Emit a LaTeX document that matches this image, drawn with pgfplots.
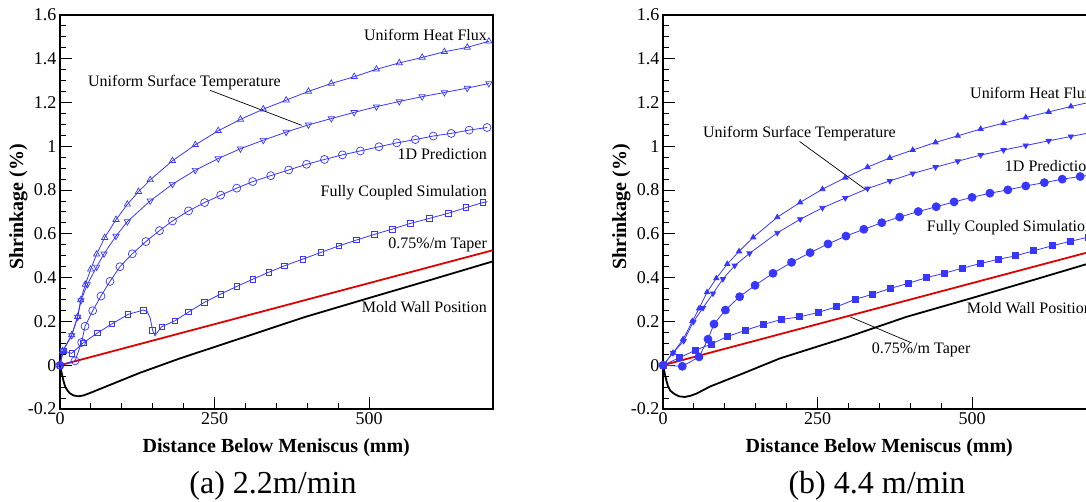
\documentclass[border=0pt]{standalone}
\usepackage{pgfplots}
\pgfplotsset{compat=1.18}
\usepackage{fontspec}
\setmainfont{Liberation Serif}
\definecolor{cblue}{RGB}{55,55,255}
\definecolor{cred}{RGB}{220,0,0}
\tikzset{
  bl/.style={color=cblue, line width=0.8pt},
  ann/.style={font=\fontsize{16}{18}\selectfont, inner sep=0pt},
}
\pgfplotsset{
  myaxis/.style={
    scale only axis, width=432.6pt, height=394pt,
    xmin=0, xmax=700, ymin=-0.2, ymax=1.6,
    xtick={0,250,500}, xticklabels={0,250,500},
    ytick={-0.2,0,0.2,0.4,0.6,0.8,1,1.2,1.4,1.6},
    yticklabels={-0.2,0,0.2,0.4,0.6,0.8,1,1.2,1.4,1.6},
    minor x tick num=4, minor y tick num=3,
    tick align=inside, xtick pos=left, ytick pos=left,
    major tick length=12pt, minor tick length=6pt,
    every tick/.style={black, line width=1pt},
    axis line style={black, line width=1.8pt},
    tick label style={font=\fontsize{18}{20}\selectfont},
    xlabel style={at={(axis description cs:0.5,-0.098)}, anchor=center, font=\fontsize{20}{22}\selectfont\bfseries},
    ylabel style={at={(axis description cs:-0.096,0.513)}, anchor=center, font=\fontsize{20}{22}\selectfont\bfseries},
    xlabel={Distance Below Meniscus (mm)},
    ylabel={Shrinkage (\%)},
    clip=false,
  },
}
\begin{document}
\begin{tikzpicture}[x=1pt,y=1pt]
\useasboundingbox (0,0) rectangle (1086,502);
\clip (0,0) rectangle (1086,502);
% ---------------- (a) ----------------
\begin{axis}[myaxis, at={(60pt,93pt)}, anchor=south west]
\addplot[black, line width=1.8pt] coordinates {(0,0)(1.5,-0.02)(3.2,-0.043)(5.5,-0.07)(8.1,-0.096)(12,-0.115)(16.2,-0.129)(22,-0.138)(29.6,-0.142)(38,-0.138)(48.5,-0.127)(75.6,-0.096)(129,-0.035)(194,0.031)(300,0.13)(396,0.22)(500,0.307)(600,0.39)(700,0.474)};
\addplot[cred, line width=1.8pt] coordinates {(0,0)(700,0.525)};
\addplot[bl, mark=triangle, mark size=3.6pt, mark options={solid, line width=0.7pt}] coordinates {(0,0)(4.4,0.066)(18.9,0.138)(28.6,0.222)(33.5,0.298)(41,0.369)(49.6,0.438)(59.3,0.507)(72.3,0.583)(90.6,0.665)(109,0.735)(127,0.793)(146,0.847)(182,0.934)(219,1.007)(256,1.071)(292,1.123)(329,1.170)(366,1.211)(402,1.251)(439,1.287)(476,1.318)(512,1.352)(549,1.381)(586,1.406)(622,1.432)(659,1.452)(694,1.48)};
\addplot[bl, mark=triangle, mark size=3.6pt, mark options={solid, rotate=180, line width=0.7pt}] coordinates {(0,0)(5,0.066)(18.9,0.136)(28.6,0.22)(34,0.296)(44.2,0.369)(59.3,0.449)(71.2,0.509)(90.6,0.590)(109,0.656)(146,0.751)(182,0.827)(219,0.891)(256,0.944)(292,0.989)(329,1.028)(366,1.065)(402,1.098)(439,1.127)(476,1.155)(512,1.181)(549,1.205)(586,1.227)(622,1.246)(659,1.266)(694,1.287)};
\addplot[bl, mark=o, mark size=4pt, mark options={solid, line width=0.7pt}] coordinates {(0,0)(24.3,0.02)(35,0.104)(40.5,0.178)(52.9,0.249)(66.3,0.316)(80.9,0.383)(97,0.45)(117,0.509)(139,0.565)(161,0.615)(182,0.659)(208,0.705)(234,0.743)(260,0.777)(286,0.809)(312,0.839)(341,0.866)(370,0.892)(399,0.918)(428,0.940)(457,0.961)(486,0.979)(516,0.998)(545,1.016)(575,1.031)(604,1.047)(633,1.059)(662,1.074)(691,1.086)};
\addplot[bl, no marks] coordinates {(0,0)(5.4,0.066)(18.9,0.054)(37.7,0.102)(60.4,0.147)(84.1,0.189)(110,0.232)(135,0.252)(141,0.246)(146,0.215)(149.8,0.160)(153.7,0.134)(158,0.152)(164.5,0.176)(186,0.203)(208,0.243)(234,0.288)(260,0.325)(286,0.360)(312,0.393)(338,0.425)(363,0.454)(393,0.485)(422,0.515)(451,0.545)(480,0.572)(509,0.598)(538,0.622)(567,0.648)(598,0.671)(628,0.694)(657,0.720)(684,0.743)(692,0.747)};
\addplot[bl, only marks, mark=square, mark size=2.8pt, mark options={solid, line width=0.7pt}] coordinates {(0,0)(5.4,0.066)(18.9,0.054)(37.7,0.102)(60.4,0.147)(84.1,0.189)(110,0.232)(135,0.252)(149.8,0.160)(164.5,0.176)(186,0.203)(208,0.243)(234,0.288)(260,0.325)(286,0.360)(312,0.393)(338,0.425)(363,0.454)(393,0.485)(422,0.515)(451,0.545)(480,0.572)(509,0.598)(538,0.622)(567,0.648)(598,0.671)(628,0.694)(657,0.720)(684,0.743)};
\node[ann, anchor=east] at (axis cs:691,1.508) {Uniform Heat Flux};
\node[ann, anchor=west] at (axis cs:45.3,1.291) {Uniform Surface Temperature};
\draw[black, line width=0.7pt] (axis cs:242.7,1.256) -- (axis cs:391,1.096);
\node[ann, anchor=east] at (axis cs:691,0.963) {1D Prediction};
\node[ann, anchor=east] at (axis cs:691,0.786) {Fully Coupled Simulation};
\node[ann, anchor=east] at (axis cs:691,0.551) {0.75\%/m Taper};
\node[ann, anchor=east] at (axis cs:691,0.264) {Mold Wall Position};
\end{axis}
% ---------------- (b) ----------------
\begin{axis}[myaxis, at={(663pt,93pt)}, anchor=south west]
\addplot[black, line width=1.8pt] coordinates {(0,0)(1.5,-0.02)(3.2,-0.043)(5.5,-0.07)(8.1,-0.096)(12,-0.117)(18.9,-0.132)(26,-0.142)(35,-0.145)(44,-0.140)(54,-0.130)(75.6,-0.098)(129,-0.038)(189,0.031)(300,0.13)(394,0.221)(500,0.307)(600,0.39)(700,0.474)};
\addplot[cred, line width=1.8pt] coordinates {(0,0)(700,0.525)};
\addplot[bl, mark=triangle*, mark size=3pt, mark options={solid}] coordinates {(0,0)(16.2,0.056)(32.4,0.118)(47.5,0.201)(58.3,0.259)(71.2,0.333)(86.3,0.397)(104,0.462)(123,0.52)(146,0.584)(185,0.676)(222,0.744)(258,0.804)(295,0.857)(331,0.905)(367,0.947)(404,0.983)(441,1.018)(477,1.048)(514,1.079)(551,1.106)(587,1.132)(624,1.157)(660,1.182)(696,1.205)};
\addplot[bl, mark=triangle*, mark size=3pt, mark options={solid, rotate=180}] coordinates {(0,0)(16.2,0.056)(33.5,0.111)(49,0.198)(64.7,0.262)(80.9,0.328)(97,0.394)(116,0.455)(140,0.511)(185,0.605)(222,0.667)(258,0.719)(295,0.764)(331,0.807)(367,0.842)(404,0.876)(441,0.905)(477,0.932)(514,0.960)(551,0.983)(587,1.004)(624,1.025)(660,1.045)(696,1.065)};
\addplot[bl, mark=*, mark size=4pt, mark options={solid}] coordinates {(0,0)(31.2,-0.005)(58.3,0.038)(72.8,0.119)(82.5,0.188)(101,0.252)(124,0.313)(149,0.365)(178,0.42)(208,0.47)(238,0.514)(267,0.554)(296,0.590)(325,0.621)(354,0.651)(383,0.677)(413,0.702)(442,0.724)(471,0.746)(500,0.767)(529,0.786)(558,0.801)(587,0.819)(617,0.834)(646,0.850)(675,0.862)(700,0.873)};
\addplot[bl, mark=square*, mark size=3pt, mark options={solid}] coordinates {(0,0)(27,0.035)(52.9,0.069)(78.2,0.097)(104,0.131)(134,0.160)(163,0.187)(192,0.209)(221,0.221)(251,0.241)(281,0.267)(311,0.301)(339,0.324)(368,0.351)(397,0.374)(426,0.40)(455,0.42)(484,0.443)(514,0.465)(543,0.484)(571,0.50)(600,0.523)(630,0.546)(659,0.566)(688,0.585)};
\node[ann, anchor=west] at (axis cs:496.8,1.246) {Uniform Heat Flux};
\node[ann, anchor=west] at (axis cs:64.7,1.057) {Uniform Surface Temperature};
\draw[black, line width=0.7pt] (axis cs:221,1.022) -- (axis cs:327,0.804);
\node[ann, anchor=west] at (axis cs:553,0.908) {1D Prediction};
\node[ann, anchor=west] at (axis cs:426.7,0.628) {Fully Coupled Simulation};
\node[ann, anchor=west] at (axis cs:491.4,0.262) {Mold Wall Position};
\node[ann, anchor=west] at (axis cs:337.7,0.072) {0.75\%/m Taper};
\draw[black, line width=0.7pt] (axis cs:302.6,0.221) -- (axis cs:402.4,0.102);
\end{axis}
\node[anchor=base, font=\fontsize{32}{34}\selectfont] at (273,8.7) {(a) 2.2m/min};
\node[anchor=base, font=\fontsize{32}{34}\selectfont] at (877,8.7) {(b) 4.4 m/min};
\end{tikzpicture}
\end{document}
